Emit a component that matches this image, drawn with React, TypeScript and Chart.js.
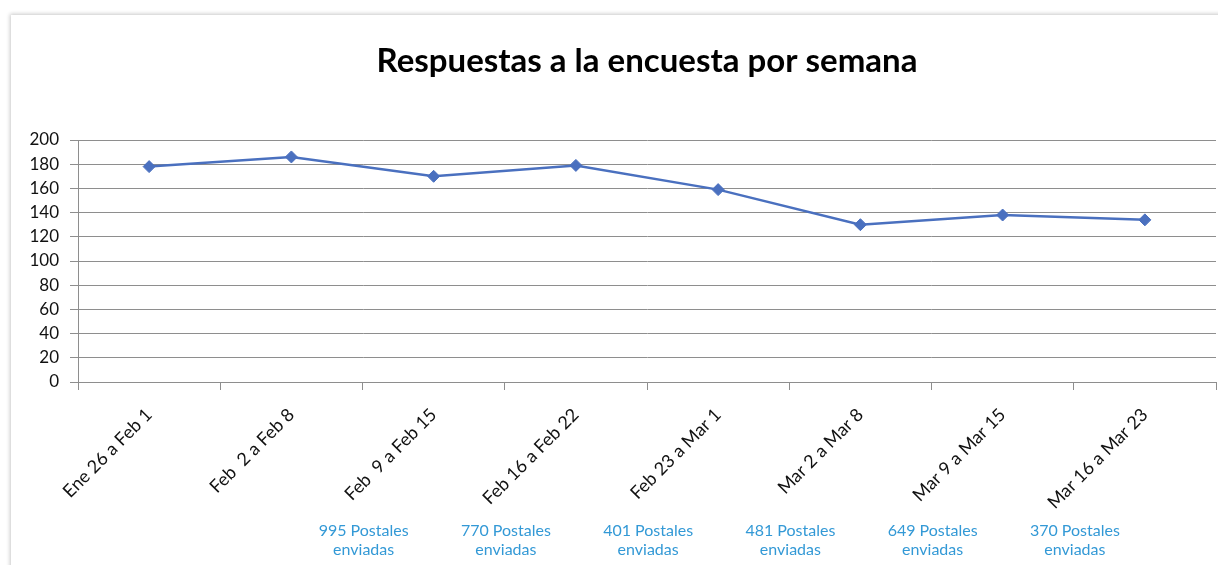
import React, { useEffect, useRef } from "react";
import { Chart, registerables } from "chart.js";

Chart.register(...registerables);

const chartTitle = "Respuestas a la encuesta por semana";
const categories = [
  "Ene 26 a Feb 1",
  "Feb  2 a Feb 8",
  "Feb  9 a Feb 15",
  "Feb 16 a Feb 22",
  "Feb 23 a Mar 1",
  "Mar 2 a Mar 8",
  "Mar 9 a Mar 15",
  "Mar 16 a Mar 23",
];
const responses = [178, 186, 170, 179, 159, 130, 138, 134];
const postcardWeekIndex = [2, 3, 4, 5, 6, 7];
const postcardsSent = [995, 770, 401, 481, 649, 370];
const postcardLine2 = "enviadas";
const yMin = 0;
const yMax = 200;
const yStep = 20;

const FONT = "Lato";
const LINE_COLOR = "#4a70bf";
const GRID_COLOR = "#8e8e8e";
const NOTE_COLOR = "#3399d6";

const overlayPlugin = {
  id: "overlay",
  afterDraw(chart: any) {
    const ctx = chart.ctx;
    const area = chart.chartArea;
    const xs = chart.scales.x;
    ctx.save();
    // title
    ctx.fillStyle = "#000";
    ctx.font = `bold 33px ${FONT}`;
    ctx.textAlign = "center";
    ctx.textBaseline = "middle";
    ctx.fillText(chartTitle, (area.left + area.right) / 2, 61);
    // postcard notes
    ctx.fillStyle = NOTE_COLOR;
    ctx.font = `16px ${FONT}`;
    postcardWeekIndex.forEach((idx, i) => {
      const x = xs.getPixelForValue(idx) - 70;
      ctx.fillText(`${postcardsSent[i]} Postales`, x, 531);
      ctx.fillText(postcardLine2, x, 550);
    });
    ctx.restore();
  },
};

export default function App() {
  const ref = useRef<HTMLCanvasElement | null>(null);
  useEffect(() => {
    if (!ref.current) return;
    const chart = new Chart(ref.current, {
      type: "line",
      data: {
        labels: categories,
        datasets: [
          {
            data: responses,
            borderColor: LINE_COLOR,
            backgroundColor: LINE_COLOR,
            borderWidth: 2.5,
            pointStyle: "rectRot",
            pointRadius: 6,
            pointBorderWidth: 1,
            tension: 0,
          },
        ],
      },
      options: {
        animation: false,
        responsive: false,
        layout: { padding: { left: 10, top: 140, right: 0, bottom: 0 } },
        plugins: { legend: { display: false }, tooltip: { enabled: false }, title: { display: false } },
        scales: {
          x: {
            offset: true,
            grid: { offset: true, drawOnChartArea: false, color: GRID_COLOR, tickLength: 8 },
            border: { color: GRID_COLOR },
            ticks: {
              minRotation: 45,
              maxRotation: 45,
              padding: 14,
              color: "#111",
              font: { family: FONT, size: 18 },
            },
            afterFit: (s: any) => {
              s.height = 183;
              s.paddingLeft = 0;
              s.paddingRight = 0;
            },
          },
          y: {
            min: yMin,
            max: yMax,
            ticks: { stepSize: yStep, padding: 11, color: "#111", font: { family: FONT, size: 17 } },
            grid: { color: GRID_COLOR, tickLength: 8 },
            border: { color: GRID_COLOR },
            afterFit: (s: any) => {
              s.width = 68;
              s.paddingTop = 0;
              s.paddingBottom = 0;
            },
          },
        },
      },
      plugins: [overlayPlugin],
    });
    return () => chart.destroy();
  }, []);

  return (
    <div style={{ position: "fixed", left: 0, top: 0, width: 1218, height: 565, background: "#fff", overflow: "hidden" }}>
      <div
        style={{
          position: "absolute",
          left: 11,
          top: 15,
          width: 1260,
          height: 620,
          background: "#fff",
          boxShadow: "0 0 4px 1px rgba(0,0,0,0.22)",
        }}
      />
      <canvas ref={ref} width={1223} height={565} style={{ position: "absolute", left: 0, top: 0, width: 1223, height: 565 }} />
    </div>
  );
}
